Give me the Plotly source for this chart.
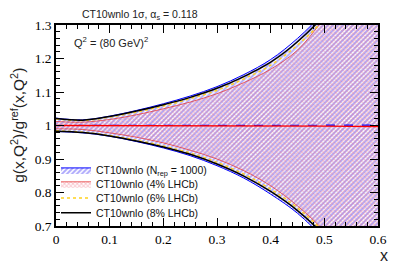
import plotly.graph_objects as go

x = [0, 0.05, 0.1, 0.15, 0.2, 0.25, 0.3, 0.35, 0.4, 0.45, 0.5, 0.55, 0.6]

blue_up = [1.022, 1.017, 1.028, 1.045, 1.065, 1.088, 1.116, 1.152, 1.197, 1.260, 1.340, 1.44, 1.56]
blue_lo = [0.982, 0.978, 0.968, 0.952, 0.933, 0.910, 0.880, 0.843, 0.795, 0.738, 0.660, 0.56, 0.44]

red_up = [1.012, 1.010, 1.018, 1.032, 1.050, 1.070, 1.095, 1.128, 1.168, 1.225, 1.320, 1.42, 1.54]
red_lo = [0.990, 0.988, 0.978, 0.965, 0.948, 0.926, 0.900, 0.865, 0.820, 0.760, 0.685, 0.59, 0.48]

yel_up = [1.020, 1.015, 1.025, 1.040, 1.058, 1.080, 1.105, 1.139, 1.180, 1.240, 1.318, 1.42, 1.53]
yel_lo = [0.984, 0.980, 0.970, 0.956, 0.939, 0.918, 0.890, 0.855, 0.810, 0.754, 0.680, 0.59, 0.47]

blk_up = [1.021, 1.016, 1.027, 1.043, 1.062, 1.084, 1.111, 1.146, 1.189, 1.250, 1.329, 1.43, 1.55]
blk_lo = [0.983, 0.979, 0.969, 0.954, 0.936, 0.914, 0.885, 0.849, 0.803, 0.746, 0.672, 0.58, 0.46]

red_mid = [1.0, 1.0, 1.0, 1.0, 1.0, 1.0, 0.9995, 0.999, 0.999, 0.9985, 0.998, 0.9975, 0.997]
blue_mid = [1.0, 1.0, 1.0, 1.0, 1.0, 1.0, 1.0, 1.0, 1.0005, 1.0005, 1.001, 1.001, 1.001]

x_ticks = [0, 0.1, 0.2, 0.3, 0.4, 0.5, 0.6]
x_labels = ["0", "0.1", "0.2", "0.3", "0.4", "0.5", "0.6"]
y_ticks = [0.7, 0.8, 0.9, 1.0, 1.1, 1.2, 1.3]
y_labels = ["0.7", "0.8", "0.9", "1", "1.1", "1.2", "1.3"]

fig = go.Figure()

# Blue band
fig.add_trace(go.Scatter(x=x, y=blue_lo, mode="lines", line=dict(color="blue", width=1, shape="spline"),
                         showlegend=False, hoverinfo="skip"))
fig.add_trace(go.Scatter(x=x, y=blue_up, mode="lines", line=dict(color="blue", width=1, shape="spline"),
                         fill="tonexty", fillcolor="rgba(0,0,0,0)",
                         fillpattern=dict(shape="/", fgcolor="rgb(90,80,250)", bgcolor="rgba(255,255,255,0)", size=3.5, solidity=0.55),
                         legend="legend", name="CT10wnlo (N<sub>rep</sub> = 1000)"))
# Red band
fig.add_trace(go.Scatter(x=x, y=red_lo, mode="lines", line=dict(color="rgba(230,60,60,0.8)", width=1, shape="spline"),
                         showlegend=False, hoverinfo="skip"))
fig.add_trace(go.Scatter(x=x, y=red_up, mode="lines", line=dict(color="rgba(230,60,60,0.8)", width=1, shape="spline"),
                         fill="tonexty", fillcolor="rgba(0,0,0,0)",
                         fillpattern=dict(shape="x", fgcolor="rgba(240,110,130,0.85)", bgcolor="rgba(255,255,255,0)", size=3, solidity=0.5),
                         legend="legend2", name="CT10wnlo (4% LHCb)"))
# Yellow dotted
fig.add_trace(go.Scatter(x=x, y=yel_lo, mode="lines", line=dict(color="#ffd21e", width=1.5, dash="dot", shape="spline"),
                         showlegend=False, hoverinfo="skip"))
fig.add_trace(go.Scatter(x=x, y=yel_up, mode="lines", line=dict(color="#ffd21e", width=1.5, dash="dot", shape="spline"),
                         legend="legend3", name="CT10wnlo (6% LHCb)"))
# Black
fig.add_trace(go.Scatter(x=x, y=blk_lo, mode="lines", line=dict(color="black", width=1.5, shape="spline"),
                         showlegend=False, hoverinfo="skip"))
fig.add_trace(go.Scatter(x=x, y=blk_up, mode="lines", line=dict(color="black", width=1.5, shape="spline"),
                         legend="legend4", name="CT10wnlo (8% LHCb)"))
# Central lines
fig.add_trace(go.Scatter(x=x, y=blue_mid, mode="lines", line=dict(color="blue", width=1.2, dash="dash"),
                         showlegend=False, hoverinfo="skip"))
fig.add_trace(go.Scatter(x=x, y=red_mid, mode="lines", line=dict(color="red", width=1.4),
                         showlegend=False, hoverinfo="skip"))

axis_common = dict(showgrid=False, zeroline=False, showline=True, linecolor="black", linewidth=1.5,
                   mirror="allticks", ticks="inside", ticklen=8, tickwidth=1, tickcolor="black",
                   tickfont=dict(family="Liberation Serif", size=13.5, color="black"))

fig.update_xaxes(range=[0, 0.6], tickvals=x_ticks, ticktext=x_labels,
                 minor=dict(ticks="inside", ticklen=4, dtick=0.02, tick0=0, tickcolor="black"),
                 **axis_common)
fig.update_yaxes(range=[0.7, 1.3], tickvals=y_ticks, ticktext=y_labels,
                 minor=dict(ticks="inside", ticklen=4, dtick=0.02, tick0=0.7, tickcolor="black"),
                 **axis_common)

def leg(yc):
    return dict(x=0.0, y=yc, xanchor="left", yanchor="middle", bgcolor="rgba(0,0,0,0)",
                font=dict(family="Liberation Sans", size=10.5, color="#111"),
                itemwidth=30, tracegroupgap=0)

fig.update_layout(
    width=391, height=262,
    margin=dict(l=48, r=21, t=10, b=44),
    paper_bgcolor="white", plot_bgcolor="white",
    font=dict(family="Liberation Sans", color="black"),
    showlegend=True,
    legend=leg(0.279),
    legend2=leg(0.210),
    legend3=leg(0.139),
    legend4=leg(0.066),
    annotations=[
        dict(text="CT10wnlo 1σ, α<sub>s</sub> = 0.118", x=0.075, y=1.05, xref="paper", yref="paper",
             xanchor="left", yanchor="middle", showarrow=False, font=dict(size=10.5, color="#222")),
        dict(text="Q<sup>2</sup> = (80 GeV)<sup>2</sup>", x=0.05, y=0.915, xref="paper", yref="paper",
             xanchor="left", yanchor="middle", showarrow=False, font=dict(size=11, color="#222")),
        dict(text="g(x,Q<sup>2</sup>)/g<sup>ref</sup>(x,Q<sup>2</sup>)", x=-0.12, y=0.5, xref="paper", yref="paper",
             xanchor="center", yanchor="middle", textangle=-90, showarrow=False, font=dict(size=15.5, color="#222")),
        dict(text="x", x=1.02, y=-0.145, xref="paper", yref="paper",
             xanchor="center", yanchor="middle", showarrow=False, font=dict(size=16, color="#222")),
    ],
)

fig.write_html("out.html")
